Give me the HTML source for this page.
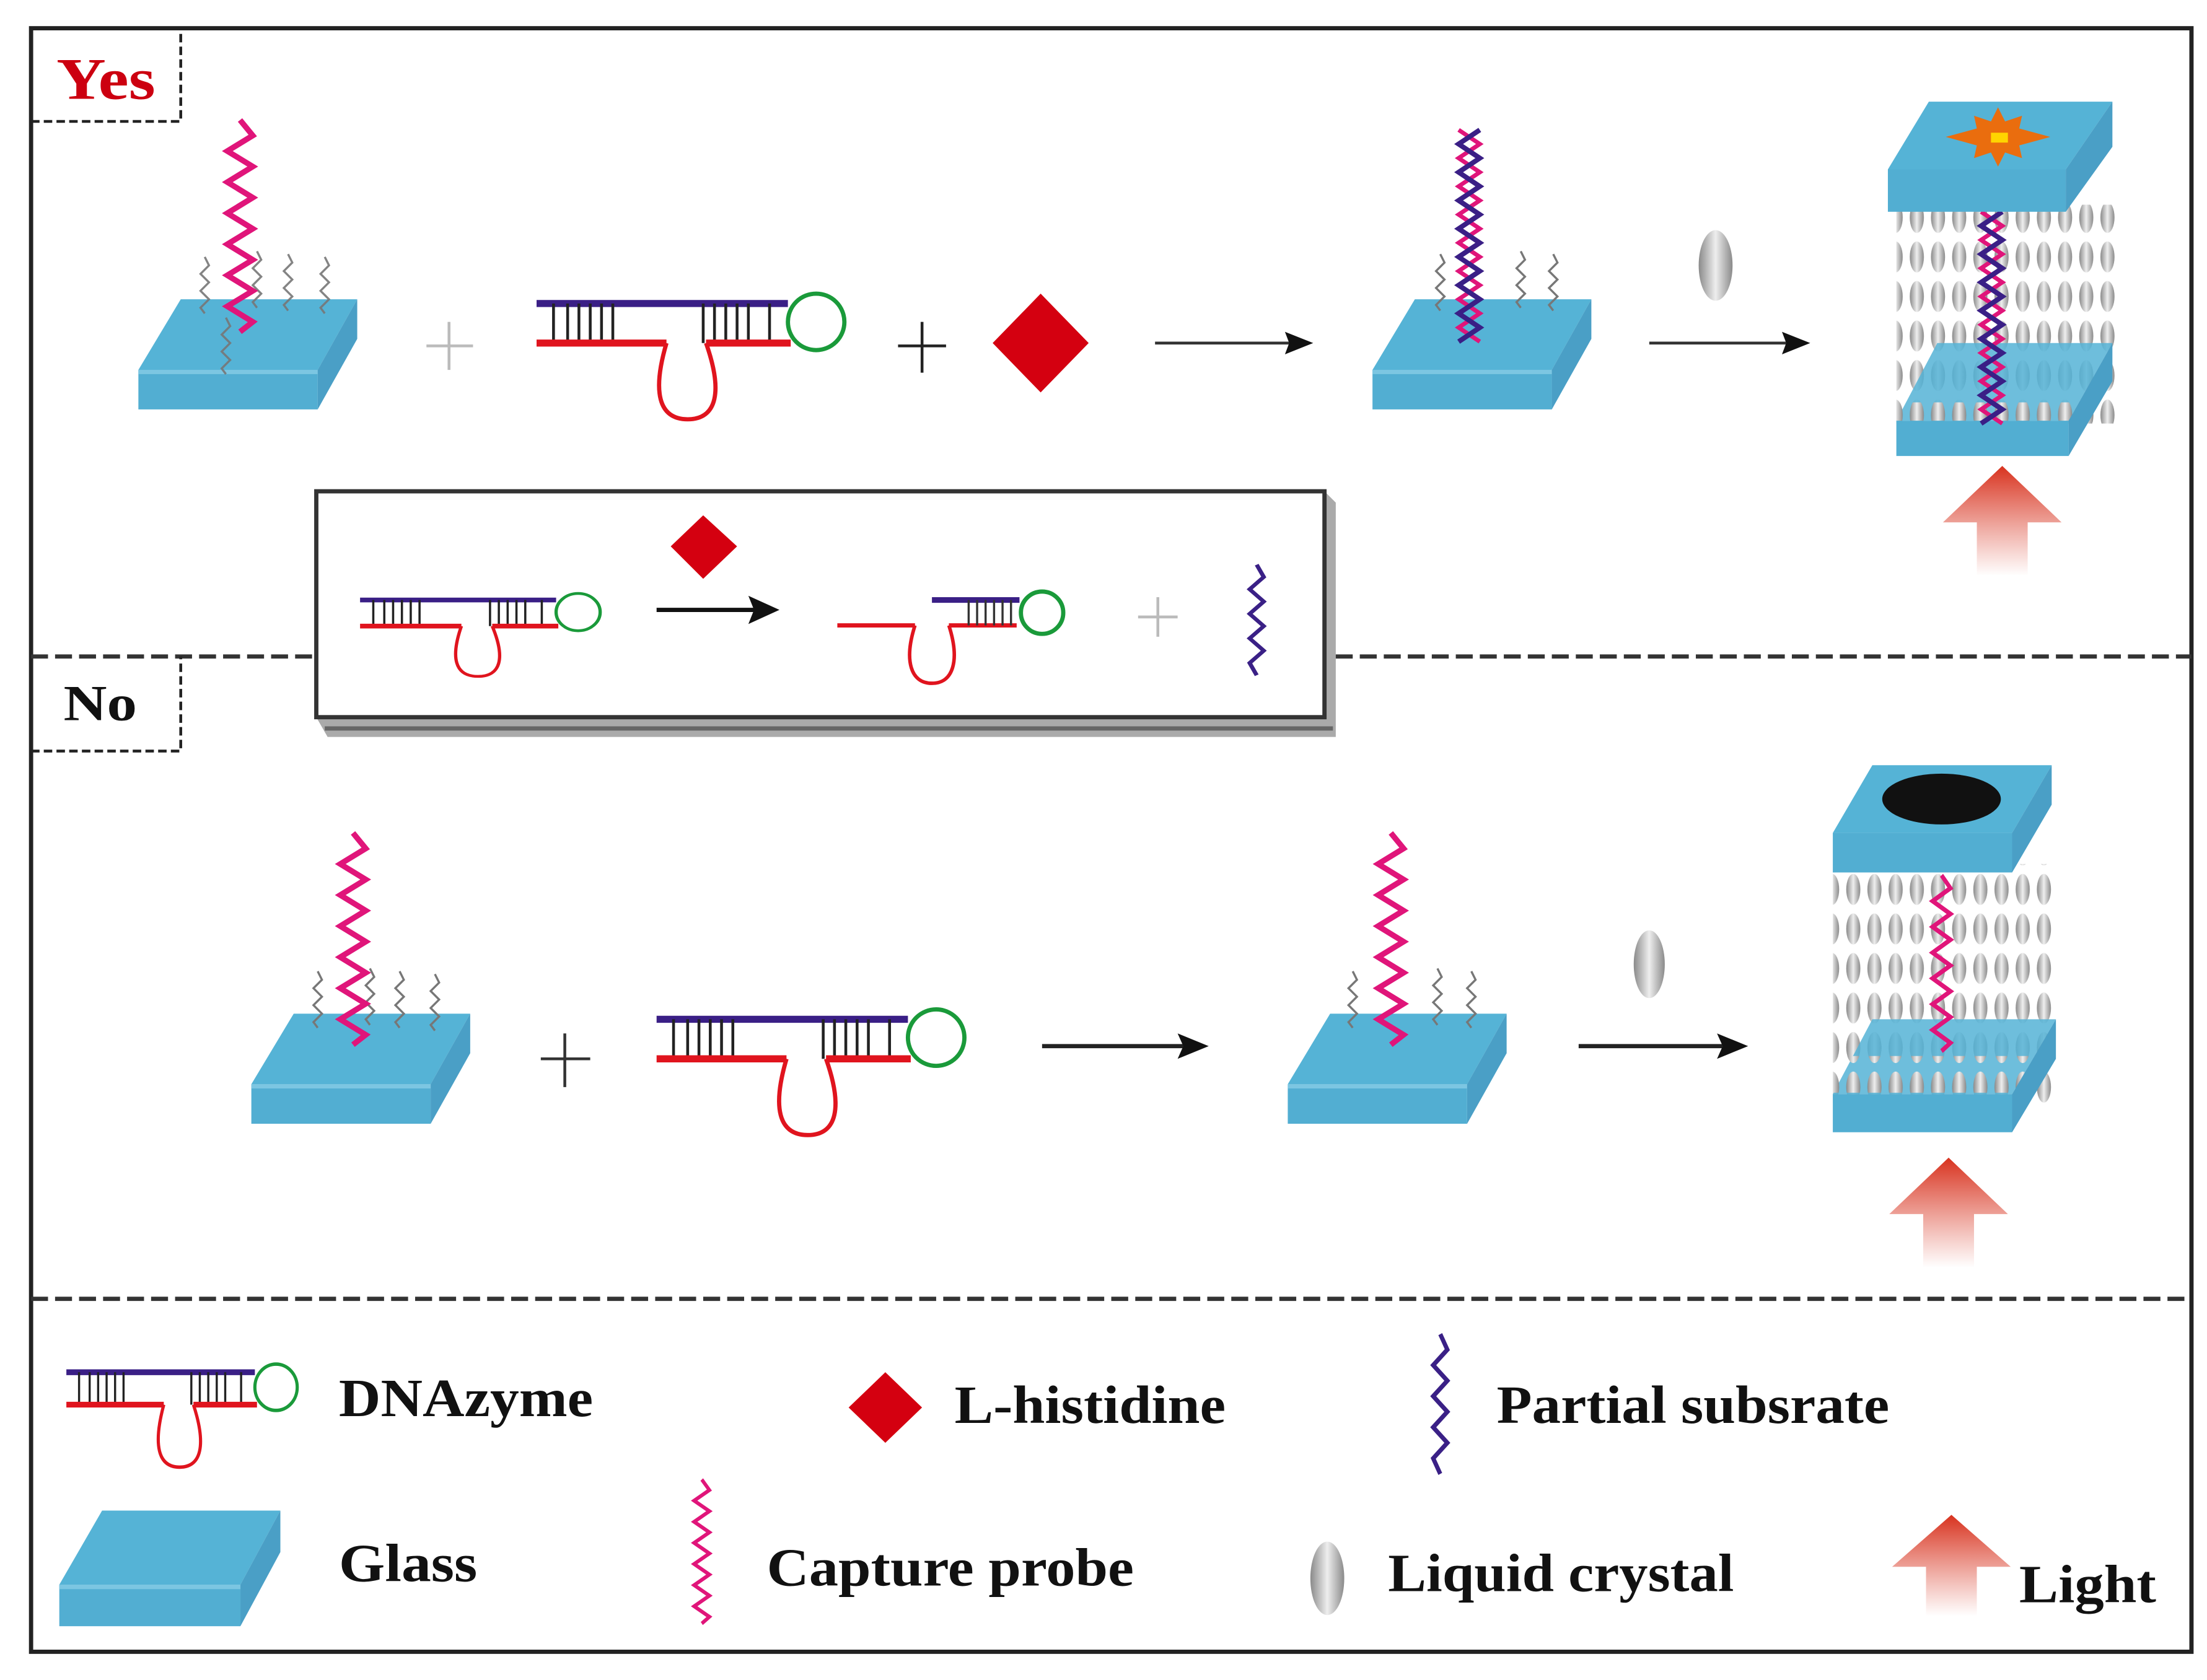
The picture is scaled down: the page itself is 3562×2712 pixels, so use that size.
<!DOCTYPE html>
<html><head><meta charset="utf-8"><style>
html,body{margin:0;padding:0;background:#fff}
svg{display:block}
text{font-family:"Liberation Serif",serif;font-weight:bold}
</style></head><body>
<svg width="3562" height="2712" viewBox="0 0 1563 1190" preserveAspectRatio="none" xmlns="http://www.w3.org/2000/svg">
<defs>
<linearGradient id="lc" x1="0" x2="1"><stop offset="0" stop-color="#8a8a8a"/><stop offset=".5" stop-color="#eee"/><stop offset="1" stop-color="#8a8a8a"/></linearGradient>
<linearGradient id="lt" x1="0" y1="0" x2="0" y2="1"><stop offset="0" stop-color="#d8321e"/><stop offset="1" stop-color="#fff" stop-opacity=".9"/></linearGradient>
<pattern id="lcp" width="15" height="28" patternUnits="userSpaceOnUse"><ellipse cx="7.5" cy="14" rx="5" ry="11" fill="url(#lc)"/></pattern>
<symbol id="glass" overflow="visible">
<polygon points="0,50 30,0 155,0 127,50" fill="#55b3d6"/>
<rect x="0" y="50" width="127" height="28" fill="#52aed2"/>
<rect x="0" y="50" width="127" height="3" fill="#7cc6e2"/>
<polygon points="127,50 155,0 155,28 127,78" fill="#4a9fc6"/>
</symbol>
<symbol id="zig" overflow="visible"><polyline points="0,0 9,11 -9,22 9,33 -9,44 9,55 -9,66 9,77 -9,88 9,99 -9,110 9,121 -9,132 9,143 0,150" fill="none" stroke="#e0157a" stroke-width="4"/></symbol>
<symbol id="pzig" overflow="visible"><polyline points="0,0 5,10 -5,20 5,30 -5,40 5,50 -5,60 5,70 -5,80 0,90" fill="none" stroke="#3a2086" stroke-width="3"/></symbol>
<symbol id="szig" overflow="visible"><polyline points="0,0 3,6 -3,12 3,18 -3,24 3,30 -3,36 0,40" fill="none" stroke="#777" stroke-width="1.5"/></symbol>
<symbol id="dz" overflow="visible">
<line x1="0" y1="0" x2="178" y2="0" stroke="#3a1f86" stroke-width="5"/>
<g stroke="#222" stroke-width="2"><line x1="12" y1="0" x2="12" y2="28"/><line x1="22" y1="0" x2="22" y2="28"/><line x1="30" y1="0" x2="30" y2="28"/><line x1="38" y1="0" x2="38" y2="28"/><line x1="46" y1="0" x2="46" y2="28"/><line x1="54" y1="0" x2="54" y2="28"/><line x1="118" y1="0" x2="118" y2="28"/><line x1="126" y1="0" x2="126" y2="28"/><line x1="134" y1="0" x2="134" y2="28"/><line x1="142" y1="0" x2="142" y2="28"/><line x1="150" y1="0" x2="150" y2="28"/><line x1="165" y1="0" x2="165" y2="28"/></g>
<line x1="0" y1="28" x2="92" y2="28" stroke="#e0141e" stroke-width="5"/>
<line x1="120" y1="28" x2="180" y2="28" stroke="#e0141e" stroke-width="5"/>
<path d="M92,28 C82,62 86,82 107,82 C128,82 132,62 120,28" fill="none" stroke="#e0141e" stroke-width="3"/>
<circle cx="198" cy="13" r="20" fill="none" stroke="#1a9a3a" stroke-width="3"/>
</symbol>
<symbol id="helix" overflow="visible">
<polyline points="0,0 15,10 0,20 15,30 0,40 15,50 0,60 15,70 0,80 15,90 0,100 15,110 0,120 15,130 0,140 15,150" fill="none" stroke="#e0157a" stroke-width="3"/>
<polyline points="15,0 0,10 15,20 0,30 15,40 0,50 15,60 0,70 15,80 0,90 15,100 0,110 15,120 0,130 15,140 0,150" fill="none" stroke="#3a1f86" stroke-width="3.5"/>
</symbol>
<symbol id="light" overflow="visible"><polygon points="0,0 42,40 18,40 18,78 -18,78 -18,40 -42,40" fill="url(#lt)"/></symbol>
</defs>
<rect width="1563" height="1190" fill="#fff"/>
<rect x="22" y="20" width="1530" height="1150" fill="none" stroke="#222" stroke-width="3"/>
<path d="M22,86 H128 V20" fill="none" stroke="#222" stroke-width="2" stroke-dasharray="6,3"/>
<text x="40" y="70" font-size="42" fill="#cc0010" textLength="70" lengthAdjust="spacingAndGlyphs">Yes</text>
<!-- row 1 -->
<use href="#glass" x="98" y="212"/>
<g opacity=".9"><use href="#szig" x="145" y="182"/><use href="#szig" x="182" y="178"/><use href="#szig" x="204" y="180"/><use href="#szig" x="230" y="182"/><use href="#szig" x="160" y="225"/></g>
<use href="#zig" x="170" y="85"/>
<g stroke="#bbb" stroke-width="2"><line x1="302" y1="245" x2="335" y2="245"/><line x1="318" y1="228" x2="318" y2="262"/></g>
<use href="#dz" x="380" y="215"/>
<g stroke="#222" stroke-width="2"><line x1="636" y1="245" x2="670" y2="245"/><line x1="653" y1="228" x2="653" y2="264"/></g>
<polygon points="737,208 771,243 737,278 703,243" fill="#d40010"/>
<line x1="818" y1="243" x2="915" y2="243" stroke="#333" stroke-width="2"/><polygon points="930,243 910,235 913,243 910,251" fill="#111"/>
<use href="#glass" x="972" y="212"/>
<g><use href="#szig" x="1020" y="180"/><use href="#szig" x="1077" y="178"/><use href="#szig" x="1100" y="180"/></g>
<use href="#helix" x="1033" y="92"/>
<ellipse cx="1215" cy="188" rx="12" ry="25" fill="url(#lc)"/>
<line x1="1168" y1="243" x2="1265" y2="243" stroke="#333" stroke-width="2"/><polygon points="1282,243 1262,235 1265,243 1262,251" fill="#111"/>
<!-- cell 1 -->
<rect x="1343" y="145" width="155" height="155" fill="url(#lcp)"/>
<polygon points="1372,243 1496,243 1465,298 1343,298" fill="#55b3d6" opacity=".85"/>
<rect x="1343" y="285" width="140" height="14" fill="url(#lcp)"/>
<rect x="1343" y="298" width="122" height="25" fill="#52aed2"/>
<polygon points="1465,298 1496,243 1496,270 1465,323" fill="#4a9fc6"/>
<use href="#helix" x="1403" y="150"/>
<polygon points="1366,72 1496,72 1463,120 1337,120" fill="#55b3d6"/>
<rect x="1337" y="120" width="126" height="30" fill="#52aed2"/>
<polygon points="1463,120 1496,72 1496,104 1463,150" fill="#4a9fc6"/>
<polygon points="1415,76 1420,86 1432,82 1430,91 1452,97 1430,103 1432,112 1420,108 1415,118 1410,108 1398,112 1400,103 1378,97 1400,91 1398,82 1410,86" fill="#ea6d0e"/>
<rect x="1410" y="94" width="12" height="7" fill="#ffd400"/>
<use href="#light" x="1418" y="330"/>
<!-- inset -->
<polygon points="224,508 232,522 946,522 946,356 938,348 938,508" fill="#aaa"/>
<rect x="224" y="348" width="714" height="160" fill="#fff" stroke="#333" stroke-width="3"/>
<line x1="230" y1="516" x2="944" y2="516" stroke="#666" stroke-width="3"/>
<g transform="translate(255,425) scale(0.78,0.66)"><use href="#dz"/></g>
<polygon points="498,365 522,387 498,410 475,387" fill="#d40010"/>
<line x1="465" y1="432" x2="535" y2="432" stroke="#111" stroke-width="3"/><polygon points="552,432 530,422 534,432 530,442" fill="#111"/>
<line x1="593" y1="443" x2="648" y2="443" stroke="#e0141e" stroke-width="3"/>
<line x1="672" y1="443" x2="720" y2="443" stroke="#e0141e" stroke-width="3"/>
<path d="M648,443 C640,468 645,484 660,484 C675,484 680,468 672,443" fill="none" stroke="#e0141e" stroke-width="2.5"/>
<line x1="660" y1="425" x2="722" y2="425" stroke="#3a1f86" stroke-width="4"/>
<g stroke="#333" stroke-width="1.5"><line x1="686" y1="425" x2="686" y2="443"/><line x1="692" y1="425" x2="692" y2="443"/><line x1="698" y1="425" x2="698" y2="443"/><line x1="704" y1="425" x2="704" y2="443"/><line x1="710" y1="425" x2="710" y2="443"/><line x1="716" y1="425" x2="716" y2="443"/></g>
<circle cx="738" cy="434" r="15" fill="none" stroke="#1a9a3a" stroke-width="3"/>
<g stroke="#bbb" stroke-width="2"><line x1="806" y1="437" x2="834" y2="437"/><line x1="820" y1="423" x2="820" y2="451"/></g>
<g transform="translate(890,400) scale(1,0.87)"><use href="#pzig"/></g>
<!-- divider -->
<line x1="22" y1="465" x2="224" y2="465" stroke="#333" stroke-width="3" stroke-dasharray="12,5"/>
<line x1="946" y1="465" x2="1552" y2="465" stroke="#333" stroke-width="3" stroke-dasharray="12,5"/>
<path d="M22,532 H128 V465" fill="none" stroke="#222" stroke-width="2" stroke-dasharray="6,3"/>
<text x="45" y="510" font-size="36" fill="#111" textLength="52" lengthAdjust="spacingAndGlyphs">No</text>
<!-- row 2 -->
<use href="#glass" x="178" y="718"/>
<g><use href="#szig" x="225" y="688"/><use href="#szig" x="262" y="686"/><use href="#szig" x="283" y="688"/><use href="#szig" x="308" y="690"/></g>
<use href="#zig" x="250" y="590"/>
<g stroke="#333" stroke-width="2"><line x1="383" y1="750" x2="418" y2="750"/><line x1="400" y1="732" x2="400" y2="770"/></g>
<use href="#dz" x="465" y="722"/>
<line x1="738" y1="741" x2="838" y2="741" stroke="#222" stroke-width="3"/><polygon points="856,741 834,732 838,741 834,750" fill="#111"/>
<use href="#glass" x="912" y="718"/>
<g><use href="#szig" x="958" y="688"/><use href="#szig" x="1018" y="686"/><use href="#szig" x="1042" y="688"/></g>
<use href="#zig" x="985" y="590"/>
<ellipse cx="1168" cy="683" rx="11" ry="24" fill="url(#lc)"/>
<line x1="1118" y1="741" x2="1220" y2="741" stroke="#222" stroke-width="3"/><polygon points="1238,741 1216,732 1220,741 1216,750" fill="#111"/>
<!-- cell 2 -->
<rect x="1298" y="612" width="157" height="170" fill="url(#lcp)"/>
<polygon points="1326,722 1456,722 1425,775 1298,775" fill="#55b3d6" opacity=".85"/>
<rect x="1298" y="748" width="140" height="26" fill="url(#lcp)"/>
<rect x="1298" y="775" width="127" height="27" fill="#52aed2"/>
<polygon points="1425,775 1456,722 1456,750 1425,802" fill="#4a9fc6"/>
<g transform="translate(1375,620) scale(0.7,0.83)"><use href="#zig"/></g>
<polygon points="1326,542 1453,542 1425,590 1298,590" fill="#55b3d6"/>
<rect x="1298" y="590" width="127" height="28" fill="#52aed2"/>
<polygon points="1425,590 1453,542 1453,570 1425,618" fill="#4a9fc6"/>
<ellipse cx="1375" cy="566" rx="42" ry="18" fill="#111"/>
<use href="#light" x="1380" y="820"/>
<line x1="22" y1="920" x2="1552" y2="920" stroke="#333" stroke-width="3" stroke-dasharray="12,5"/>
<!-- legend -->
<g transform="translate(47,972) scale(0.75,0.82)"><use href="#dz"/></g>
<text x="240" y="1003" font-size="38" fill="#111" textLength="180" lengthAdjust="spacingAndGlyphs">DNAzyme</text>
<polygon points="627,972 653,997 627,1022 601,997" fill="#d40010"/>
<text x="676" y="1008" font-size="38" fill="#111" textLength="192" lengthAdjust="spacingAndGlyphs">L-histidine</text>
<g transform="translate(1020,945) scale(1,1.1)"><use href="#pzig"/></g>
<text x="1060" y="1008" font-size="38" fill="#111" textLength="278" lengthAdjust="spacingAndGlyphs">Partial subsrate</text>
<g transform="translate(42,1070) scale(1.01,1.05)"><use href="#glass"/></g>
<text x="240" y="1120" font-size="38" fill="#111" textLength="98" lengthAdjust="spacingAndGlyphs">Glass</text>
<g transform="translate(497,1048) scale(0.6,0.68)"><use href="#zig"/></g>
<text x="543" y="1123" font-size="38" fill="#111" textLength="260" lengthAdjust="spacingAndGlyphs">Capture probe</text>
<ellipse cx="940" cy="1118" rx="12" ry="26" fill="url(#lc)"/>
<text x="983" y="1127" font-size="38" fill="#111" textLength="245" lengthAdjust="spacingAndGlyphs">Liquid crystal</text>
<g transform="translate(1382,1073) scale(1,0.92)"><use href="#light"/></g>
<text x="1430" y="1135" font-size="38" fill="#111" textLength="97" lengthAdjust="spacingAndGlyphs">Light</text>
</svg>
</body></html>
